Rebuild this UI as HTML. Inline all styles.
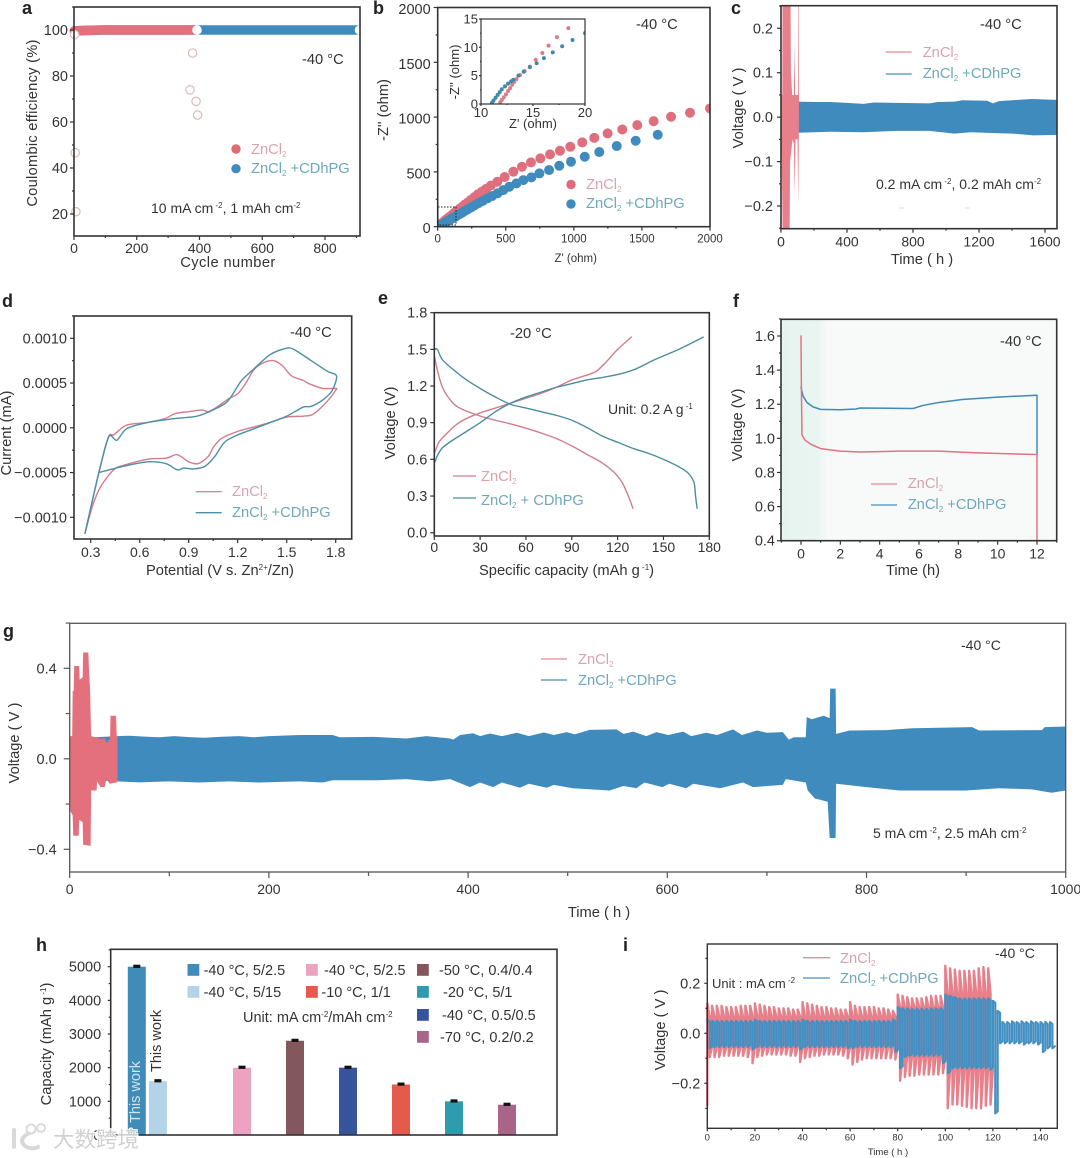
<!DOCTYPE html>
<html lang="en">
<head>
<meta charset="utf-8">
<title>Zinc cell electrochemical performance figure</title>
<style>
html,body{margin:0;padding:0;background:#fff;}
svg{display:block;font-family:"Liberation Sans","Noto Sans CJK SC",sans-serif;}
text{fill:#333;}
.p{font-weight:bold;font-size:18px;fill:#222;}
.r{fill:#d9a3ad;}
.b{fill:#6ea8ba;}
.t{font-size:14.7px;}
</style>
</head>
<body>
<svg id="fig" width="1080" height="1158" viewBox="0 0 1080 1158" xmlns="http://www.w3.org/2000/svg">
<rect width="1080" height="1158" fill="#fff"/>
<defs>
<clipPath id="cb"><rect x="437.7" y="7.5" width="272.3" height="219.2"/></clipPath>
<clipPath id="cc"><rect x="781" y="5.7" width="276" height="223"/></clipPath>
<clipPath id="cbi"><rect x="481" y="19" width="104" height="85"/></clipPath>
<linearGradient id="fband" x1="0" x2="1" y1="0" y2="0"><stop offset="0" stop-color="#e6f4ef"/><stop offset=".8" stop-color="#e9f5f1"/><stop offset="1" stop-color="#f6f9f8"/></linearGradient>
</defs>

<g id="panel-a">
<g id="a-marks"></g>
<g id="a-axes"></g>
<text class="p" x="22" y="14">a</text>
<text class="t" transform="translate(37,123) rotate(-90)" text-anchor="middle" style="letter-spacing:.25px">Coulombic efficiency (%)</text>
<text class="t" x="228" y="267" text-anchor="middle" style="letter-spacing:.4px">Cycle number</text>
<text class="t" x="302" y="64">-40 °C</text>
<circle cx="236" cy="149" r="4.7" fill="#e06a78"/>
<circle cx="236" cy="168.7" r="4.7" fill="#408bbd"/>
<text class="t r" x="251" y="154">ZnCl<tspan dy="3" font-size="8">2</tspan></text>
<text class="t b" x="251" y="173">ZnCl<tspan dy="3" font-size="8">2</tspan><tspan dy="-3"> +CDhPG</tspan></text>
<text class="t" x="151" y="213" style="font-size:14px">10 mA cm<tspan dy="-5" font-size="8"> -2</tspan><tspan dy="5">, 1 mAh cm</tspan><tspan dy="-5" font-size="8">-2</tspan></text>
</g>

<g id="panel-b">
<g id="b-marks" clip-path="url(#cb)"></g>
<g id="b-axes"></g>
<rect x="438" y="207" width="18" height="18" fill="none" stroke="#222" stroke-width="1" stroke-dasharray="1.5 1.5"/>
<g id="bi-marks" clip-path="url(#cbi)"></g>
<g id="bi-axes"></g>
<text class="p" x="373" y="14">b</text>
<text class="t" transform="translate(388,110) rotate(-90)" text-anchor="middle">-Z'' (ohm)</text>
<text x="575.7" y="262" font-size="11.5" text-anchor="middle">Z' (ohm)</text>
<text x="533" y="128" font-size="13" text-anchor="middle">Z' (ohm)</text>
<text transform="translate(459,72) rotate(-90)" font-size="13" text-anchor="middle">-Z'' (ohm)</text>
<text class="t" x="636" y="29">-40 °C</text>
<circle cx="571" cy="184.5" r="4.7" fill="#e06a78"/>
<circle cx="571" cy="204" r="4.7" fill="#408bbd"/>
<text class="t r" x="586" y="189">ZnCl<tspan dy="3" font-size="8">2</tspan></text>
<text class="t b" x="586" y="208">ZnCl<tspan dy="3" font-size="8">2</tspan><tspan dy="-3"> +CDhPG</tspan></text>
</g>

<g id="panel-c">
<g id="c-marks" clip-path="url(#cc)"></g>
<g id="c-axes"></g>
<text class="p" x="731" y="14">c</text>
<text class="t" transform="translate(743,108) rotate(-90)" text-anchor="middle">Voltage ( V )</text>
<text class="t" x="922" y="264" text-anchor="middle">Time ( h )</text>
<text class="t" x="980" y="29">-40 °C</text>
<line x1="885.7" x2="911.7" y1="52" y2="52" stroke="#e58a96" stroke-width="1.3"/>
<line x1="885.7" x2="911.7" y1="74" y2="74" stroke="#4a8fb0" stroke-width="1.3"/>
<text class="t r" x="922.7" y="57">ZnCl<tspan dy="3" font-size="8">2</tspan></text>
<text class="t b" x="922.7" y="78">ZnCl<tspan dy="3" font-size="8">2</tspan><tspan dy="-3"> +CDhPG</tspan></text>
<text x="876" y="189" font-size="14">0.2 mA cm<tspan dy="-5" font-size="8"> -2</tspan><tspan dy="5">, 0.2 mAh cm</tspan><tspan dy="-5" font-size="8">-2</tspan></text>
<line x1="899" x2="904" y1="208" y2="208" stroke="#ddd" stroke-width="1"/>
<line x1="965" x2="970" y1="208" y2="208" stroke="#ddd" stroke-width="1"/>
</g>

<g id="panel-d">
<g id="d-marks"></g>
<g id="d-axes"></g>
<text class="p" x="2" y="307">d</text>
<text class="t" transform="translate(11,433) rotate(-90)" text-anchor="middle">Current (mA)</text>
<text class="t" x="146" y="575">Potential (V s. Zn<tspan dy="-5" font-size="8">2+</tspan><tspan dy="5">/Zn)</tspan></text>
<text class="t" x="290" y="337">-40 °C</text>
<line x1="195.7" x2="221.7" y1="491.7" y2="491.7" stroke="#d98a97" stroke-width="1.3"/>
<line x1="195.7" x2="221.7" y1="512.7" y2="512.7" stroke="#4a8fa8" stroke-width="1.3"/>
<text class="t r" x="232" y="496">ZnCl<tspan dy="3" font-size="8">2</tspan></text>
<text class="t b" x="232" y="517">ZnCl<tspan dy="3" font-size="8">2</tspan><tspan dy="-3"> +CDhPG</tspan></text>
</g>

<g id="panel-e">
<g id="e-marks"></g>
<g id="e-axes"></g>
<text class="p" x="378" y="304">e</text>
<text class="t" transform="translate(395,423) rotate(-90)" text-anchor="middle">Voltage (V)</text>
<text class="t" x="479" y="575">Specific capacity (mAh g<tspan dy="-5" font-size="8"> -1</tspan><tspan dy="5">)</tspan></text>
<text class="t" x="510" y="338">-20 °C</text>
<text x="608" y="414" font-size="14">Unit: 0.2 A g<tspan dy="-5" font-size="8"> -1</tspan></text>
<line x1="453" x2="476" y1="476" y2="476" stroke="#cf7f8b" stroke-width="1.3"/>
<line x1="453" x2="476" y1="498" y2="498" stroke="#4b8d9f" stroke-width="1.3"/>
<text class="t r" x="481" y="481">ZnCl<tspan dy="3" font-size="8">2</tspan></text>
<text class="t b" x="481" y="505">ZnCl<tspan dy="3" font-size="8">2</tspan><tspan dy="-3"> + CDhPG</tspan></text>
</g>

<g id="panel-f">
<rect x="781" y="319.3" width="276" height="221.4" fill="#f7faf9"/>
<rect x="782" y="320" width="45" height="220" fill="url(#fband)"/>
<g id="f-marks"></g>
<g id="f-axes"></g>
<text class="p" x="733" y="307">f</text>
<text class="t" transform="translate(742,425) rotate(-90)" text-anchor="middle">Voltage (V)</text>
<text class="t" x="913" y="575" text-anchor="middle">Time (h)</text>
<text class="t" x="1000" y="346">-40 °C</text>
<line x1="871" x2="897" y1="484" y2="484" stroke="#e58a96" stroke-width="1.3"/>
<line x1="871" x2="897" y1="505" y2="505" stroke="#4a8fb0" stroke-width="1.3"/>
<text class="t r" x="907.7" y="488">ZnCl<tspan dy="3" font-size="8">2</tspan></text>
<text class="t b" x="907.7" y="509">ZnCl<tspan dy="3" font-size="8">2</tspan><tspan dy="-3"> +CDhPG</tspan></text>
</g>

<g id="panel-g">
<g id="g-marks"></g>
<g id="g-axes"></g>
<text class="p" x="3" y="637">g</text>
<text class="t" transform="translate(19,743) rotate(-90)" text-anchor="middle">Voltage ( V )</text>
<text class="t" x="599" y="917" text-anchor="middle">Time ( h )</text>
<text x="961" y="650" font-size="14">-40 °C</text>
<text x="873" y="838" font-size="14">5 mA cm<tspan dy="-5" font-size="8"> -2</tspan><tspan dy="5">, 2.5 mAh cm</tspan><tspan dy="-5" font-size="8">-2</tspan></text>
<line x1="541" x2="567" y1="659" y2="659" stroke="#e58a96" stroke-width="1.3"/>
<line x1="541" x2="567" y1="680" y2="680" stroke="#4a8fb0" stroke-width="1.3"/>
<text class="t r" x="578" y="664">ZnCl<tspan dy="3" font-size="8">2</tspan></text>
<text class="t b" x="578" y="685">ZnCl<tspan dy="3" font-size="8">2</tspan><tspan dy="-3"> +CDhPG</tspan></text>
</g>

<g id="panel-h">
<g id="h-marks"></g>
<g id="h-axes"></g>
<text class="p" x="36" y="951">h</text>
<text class="t" transform="translate(51,1044) rotate(-90)" text-anchor="middle">Capacity (mAh g<tspan dy="-5" font-size="8"> -1</tspan><tspan dy="5">)</tspan></text>
<text transform="translate(140,1092) rotate(-90)" text-anchor="middle" font-size="14.5" style="fill:#cfe3ee">This work</text>
<text transform="translate(161,1041) rotate(-90)" text-anchor="middle" font-size="14.5">This work</text>
<g id="h-legend"></g>
<text x="243" y="1022" font-size="14.5">Unit: mA cm<tspan dy="-5" font-size="8">-2</tspan><tspan dy="5">/mAh cm</tspan><tspan dy="-5" font-size="8">-2</tspan></text>
</g>

<g id="panel-i">
<g id="i-marks"></g>
<g id="i-axes"></g>
<text class="p" x="623" y="951">i</text>
<text class="t" transform="translate(665,1030) rotate(-90)" text-anchor="middle">Voltage ( V )</text>
<text x="888" y="1155" font-size="9.5" text-anchor="middle">Time ( h )</text>
<text x="995" y="958" font-size="14">-40 °C</text>
<text x="712" y="988" font-size="13">Unit : mA cm<tspan dy="-5" font-size="8"> -2</tspan></text>
<line x1="803" x2="830" y1="957.7" y2="957.7" stroke="#e58a96" stroke-width="1.3"/>
<line x1="803" x2="830" y1="978" y2="978" stroke="#4a8fb0" stroke-width="1.3"/>
<text class="t r" x="840" y="963">ZnCl<tspan dy="3" font-size="8">2</tspan></text>
<text class="t b" x="840" y="983">ZnCl<tspan dy="3" font-size="8">2</tspan><tspan dy="-3"> +CDhPG</tspan></text>
</g>

<g id="watermark" opacity=".95">
<path d="M14 1130 L14 1147 M34 1131 C22 1135 20 1141 24 1145 C28 1149 34 1149 38 1147" fill="none" stroke="#d6d6d6" stroke-width="4" stroke-linecap="round"/>
<circle cx="31" cy="1129" r="4.5" fill="#fff" stroke="#d6d6d6" stroke-width="1.8"/>
<circle cx="41" cy="1128" r="4" fill="#fff" stroke="#d6d6d6" stroke-width="1.8"/>
<text x="53" y="1147" font-size="21.5" style="fill:#cfcfcf;stroke:#fff;stroke-width:2;paint-order:stroke;font-family:'Liberation Sans','Noto Sans CJK SC',sans-serif">大数跨境</text>
</g>
</svg>

<script>
/* ---------- panel a data ---------- */
const aXTicks = ['0','200','400','600','800'];
const aYTicks = ['20','40','60','80','100'];
const aRedCycles = [1,40,80,120,160,200,240,280,320,360,385];
const aRedCE = [99.6,99.9,100,100,100,100,100,100,100,100,100];
const aBlueCycles = [1,100,200,300,400,500,600,700,800,910];
const aBlueCE = [99.6,100,100,100,100,100,100,100,100,100];
const aOpenCycles = [370,378,389,394,4,6,392,910,2];
const aOpenCE = [74,90,69,63,46.6,21,100,100,98];

/* ---------- panel b data ---------- */
const bTicks = ['0','500','1000','1500','2000'];
const bRedZ = [2000,1853,1714,1586,1466,1356,1248,1150,1062,974,898,825,754,685,619,556,492,438,390,355,325,295,270,245,222,200,180,160,142,125,110,95,80,68,56,46,36,28,20,14,12];
const bRedZi = [1079,1040,1003,963,927,887,851,811,769,729,693,660,623,587,547,502,453,410,375,345,320,295,270,245,222,202,182,163,145,128,112,97,83,70,58,47,37,27,18,10,5];
const bBlueZ = [1616,1454,1315,1187,1080,979,893,818,747,688,629,578,526,482,440,400,365,330,300,270,245,220,198,178,158,140,122,106,92,78,65,53,42,32,23,16,11];
const bBlueZi = [839,784,736,681,638,593,556,517,486,450,425,395,365,334,305,280,258,235,215,195,175,158,142,127,113,100,87,75,64,54,45,36,28,20,13,7,3];
const biXTicks = ['10','15','20'];
const biYTicks = ['0','5','10','15'];
const biRedZ = [18.4,17.3,16.5,15.9,15.26,14.7,14.2,13.75,13.4,13.2,13,12.8,12.6,12.4,12.2,12,11.85];
const biRedZi = [13.4,11.8,10.3,9,7.8,6.6,5.8,5.1,4.4,3.9,3.4,2.8,2.3,1.7,1.2,.7,.3];
const biBlueZ = [20,18.8,17.8,16.9,16.05,15.35,14.7,14.1,13.6,13.1,12.9,12.6,12.3,12,11.8,11.6,11.4,11.2,11.05];
const biBlueZi = [12.5,11.3,10.2,9.1,8.1,7.2,6.5,5.7,5,4.25,4,3.6,3.1,2.6,2.1,1.6,1.1,.6,.2];

/* ---------- panel c data ---------- */
const cXTicks = ['0','400','800','1200','1600'];
const cYTicks = ['\u22120.2','\u22120.1','0.0','0.1','0.2'];
const cBlueUpT = [100,200,300,400,500,560,700,900,950,1050,1100,1250,1285,1320,1400,1520,1672];
const cBlueUpV = [.035,.034,.034,.032,.03,.033,.032,.031,.034,.035,.038,.037,.031,.036,.038,.041,.039];
const cBlueLowT = [100,300,500,700,900,1050,1150,1300,1400,1530,1672];
const cBlueLowV = [-.035,-.033,-.034,-.031,-.031,-.037,-.034,-.036,-.037,-.041,-.04];
const cRedUpT = [0,8,9,58,60,68,78,82,86,104,105,108,109];
const cRedUpV = [.05,.05,.27,.27,.1,.05,.05,.165,.05,.05,.27,.27,.04];
const cRedLowT = [0,5,10,52,55,70,78,83,88,100,105,108];
const cRedLowV = [-.05,-.1,-.27,-.27,-.1,-.05,-.06,-.175,-.05,-.05,-.2,-.04];

/* ---------- panel d data ---------- */
const dXTicks = ['0.3','0.6','0.9','1.2','1.5','1.8'];
const dYTicks = ['\u22120.0010','\u22120.0005','0.0000','0.0005','0.0010'];
const dRedE = [.265,.35,.41,.44,.52,.65,.75,.82,.9,.98,1.02,1.08,1.14,1.2,1.25,1.3,1.36,1.42,1.47,1.53,1.6,1.64,1.72,1.8,1.8,1.74,1.66,1.6,1.5,1.4,1.3,1.2,1.1,1.05,1.02,.96,.9,.83,.76,.65,.5,.44,.36,.31,.265];
const dRedI = [-.00118,-.0005,-.0001,-.00008,.00003,.00006,.0001,.00016,.00018,.0002,.00018,.00024,.00032,.00038,.0005,.00065,.00073,.00075,.0007,.00058,.00053,.00049,.00044,.00044,.00042,.00028,.00015,.00013,.00012,.00006,.00001,-.00004,-.00012,-.00022,-.00032,-.0004,-.00038,-.0003,-.00034,-.00035,-.00042,-.00047,-.00066,-.00088,-.00118];
const dBlueE = [.265,.35,.41,.46,.52,.65,.8,.95,1.05,1.14,1.22,1.3,1.4,1.5,1.55,1.65,1.75,1.805,1.78,1.72,1.65,1.6,1.5,1.4,1.3,1.2,1.12,1.06,1,.93,.87,.83,.76,.65,.5,.35];
const dBlueI = [-.00118,-.0005,-.0001,-.00014,-.00001,.00006,.0001,.00013,.0002,.0003,.00052,.00066,.00082,.00089,.00087,.00075,.00063,.00058,.00042,.00031,.00024,.00023,.00013,.00006,-.00001,-.00008,-.00016,-.00032,-.00043,-.00046,-.00045,-.00047,-.0004,-.00038,-.00043,-.0005];

/* ---------- panel e data ---------- */
const eXTicks = ['0','30','60','90','120','150','180'];
const eYTicks = ['0.0','0.3','0.6','0.9','1.2','1.5','1.8'];
const eRedChargeQ = [.5,3,8,15,22,30,40,50,60,70,80,90,100,106,112,120,129];
const eRedChargeV = [.66,.74,.81,.89,.94,.98,1.02,1.06,1.1,1.14,1.19,1.25,1.29,1.32,1.39,1.5,1.6];
const eRedDisQ = [0,2,5,9,14,20,30,40,50,60,70,80,90,100,110,118,123,127,130];
const eRedDisV = [1.45,1.33,1.2,1.11,1.04,1,.955,.92,.89,.855,.815,.77,.71,.64,.57,.49,.41,.3,.2];
const eBlueChargeQ = [.5,2,5,10,20,30,40,50,60,70,80,90,100,110,122,132,145,160,176];
const eBlueChargeV = [.58,.63,.69,.74,.82,.9,.99,1.06,1.11,1.15,1.19,1.22,1.25,1.27,1.3,1.34,1.42,1.5,1.6];
const eBlueDisQ = [.5,2,5,10,20,30,40,50,60,70,80,90,100,110,120,130,140,150,160,166,170,171,172];
const eBlueDisV = [1.5,1.5,1.42,1.36,1.26,1.18,1.11,1.05,1.02,.99,.96,.92,.86,.79,.74,.69,.65,.6,.54,.49,.41,.3,.2];

/* ---------- panel f data ---------- */
const fXTicks = ['0','2','4','6','8','10','12'];
const fYTicks = ['0.4','0.6','0.8','1.0','1.2','1.4','1.6'];
const fRedT = [0,.02,.05,.2,.5,1,2,3,5,7,9,12,12];
const fRedV = [1.6,1.3,1.02,.99,.965,.94,.925,.92,.925,.925,.915,.905,.4];
const fBlueT = [0,.1,.3,.6,1,2,2.8,3,5,5.7,6.2,7,8.2,10,12,12];
const fBlueV = [1.3,1.25,1.21,1.185,1.17,1.168,1.172,1.178,1.176,1.175,1.193,1.21,1.228,1.242,1.253,.905];

/* ---------- panel g data ---------- */
const gXTicks = ['0','200','400','600','800','1000'];
const gYTicks = ['\u22120.4','0.0','0.4'];
const gBlueUpT = [0,48,60,75,90,105,120,135,150,170,185,200,231,264,271,305,338,358,382,385,392,405,412,422,434,449,461,476,486,499,507,522,549,556,566,579,589,601,616,624,639,650,666,675,690,700,716,722,727,739,740,745,757,763,763.5,769,769.5,783,820,846,906,913,976,979,1000];
const gBlueUpV = [.09,.1,.102,.098,.095,.1,.096,.093,.097,.1,.095,.1,.105,.105,.095,.097,.09,.1,.09,.085,.105,.113,.1,.112,.1,.115,.1,.116,.105,.118,.108,.128,.13,.11,.12,.1,.118,.105,.12,.1,.115,.105,.13,.105,.125,.115,.118,.085,.095,.095,.185,.175,.19,.18,.31,.31,.11,.125,.127,.135,.14,.125,.127,.14,.143];
const gBlueLowT = [0,48,70,100,130,160,190,231,254,264,308,338,362,382,402,412,425,434,452,461,479,486,505,542,556,569,577,595,602,619,626,653,676,686,716,719,739,741,748,761,763,769,769.5,800,833,900,933,966,986,1000];
const gBlueLowV = [-.09,-.1,-.104,-.1,-.105,-.1,-.105,-.1,-.105,-.095,-.095,-.09,-.1,-.09,-.125,-.105,-.125,-.105,-.128,-.11,-.128,-.115,-.13,-.14,-.12,-.13,-.105,-.125,-.11,-.13,-.11,-.13,-.105,-.125,-.115,-.09,-.105,-.14,-.175,-.19,-.35,-.35,-.11,-.125,-.14,-.14,-.13,-.135,-.15,-.14];
const gRedUpT = [0,2.5,3,4,4.5,9.5,10,13,13.5,18.7,19.2,20.5,21.5,30.4,35.5,37,40.5,41,46.5,47.2,48];
const gRedUpV = [.1,.1,.3,.3,.41,.41,.35,.36,.47,.47,.41,.3,.1,.09,.09,.07,.09,.19,.19,.1,.1];
const gRedLowT = [0,.5,3,3.5,9,9.5,13,13.5,21,21.5,27,27.5,31,35,37,40,47,48];
const gRedLowV = [-.1,-.23,-.25,-.34,-.34,-.27,-.28,-.38,-.385,-.14,-.14,-.1,-.125,-.125,-.09,-.11,-.105,-.1];

/* ---------- panel h data ---------- */
const hCategories = ['-40 °C, 5/2.5 this work','-40 °C, 5/15 this work','-40 °C, 5/2.5','-50 °C, 0.4/0.4','-40 °C, 0.5/0.5','-10 °C, 1/1','-20 °C, 5/1','-70 °C, 0.2/0.2'];
const hCapacity = [5000,1600,2000,2800,2000,1500,1000,900];
const hColors = ['#3f8cb8','#b3d4e8','#eba3c1','#84575c','#35549c','#e45a4c','#2f9bae','#a96488'];
const hYTicks = ['0','1000','2000','3000','4000','5000'];

/* ---------- panel i data ---------- */
const iXTicks = ['0','20','40','60','80','100','120','140'];
const iYTicks = ['\u22120.2','0.0','0.2'];
const iRedUp = [.12,.11,.11,.11,.105,.105,.105,.11,.11,.11,.12,.115,.11,.105,.105,.1,.1,.1,.095,.095,.125,.12,.115,.11,.105,.105,.1,.1,.095,.095,.125,.11,.105,.105,.105,.105,.1,.1,.095,.09,.155,.15,.145,.14,.14,.14,.145,.15,.15,.15,.27,.26,.255,.25,.25,.25,.25,.26,.265,.26];
const iRedLow = [-.095,-.095,-.095,-.09,-.09,-.09,-.09,-.09,-.095,-.12,-.095,-.09,-.085,-.085,-.085,-.085,-.085,-.09,-.09,-.115,-.1,-.095,-.09,-.09,-.085,-.085,-.085,-.085,-.09,-.1,-.125,-.115,-.105,-.1,-.1,-.1,-.1,-.1,-.1,-.105,-.19,-.175,-.17,-.17,-.165,-.165,-.165,-.165,-.165,-.16,-.3,-.285,-.285,-.29,-.295,-.3,-.3,-.3,-.29,-.285];
const iRedBaseUp = [.068,.068,.068,.068,.105,.16];
const iRedBaseLow = [-.055,-.055,-.055,-.055,-.095,-.145];
const iBlueUp = [.055,.05,.05,.05,.05,.05,.05,.05,.05,.05,.055,.05,.05,.05,.05,.05,.05,.05,.05,.05,.055,.05,.05,.05,.05,.05,.05,.05,.05,.05,.055,.05,.05,.05,.05,.05,.05,.05,.05,.055,.105,.1,.1,.098,.098,.098,.098,.1,.1,.1,.155,.15,.145,.14,.14,.14,.14,.14,.14,.14,.13,.09,.045,.045,.048,.045,.048,.045,.048,.045,.045,.045,.045];
const iBlueLow = [-.06,-.055,-.055,-.055,-.055,-.055,-.055,-.055,-.055,-.065,-.055,-.055,-.055,-.055,-.055,-.055,-.055,-.055,-.055,-.065,-.055,-.055,-.055,-.055,-.055,-.055,-.055,-.055,-.055,-.06,-.06,-.055,-.055,-.055,-.055,-.055,-.055,-.055,-.055,-.075,-.14,-.095,-.09,-.09,-.09,-.09,-.09,-.09,-.09,-.12,-.16,-.14,-.14,-.14,-.14,-.14,-.14,-.14,-.14,-.145,-.32,-.04,-.04,-.04,-.04,-.04,-.045,-.04,-.04,-.045,-.075,-.06,-.06];

/* ---------- helpers ---------- */
const NS = 'http://www.w3.org/2000/svg';
function scale(d0, d1, r0, r1) { return v => r0 + (v - d0) * (r1 - r0) / (d1 - d0); }
function num(s) { return parseFloat(String(s).replace('\u2212', '-')); }
function el(parent, tag, name) {
  const e = document.createElementNS(NS, tag);
  
  
  document.getElementById(parent).appendChild(e);
  return e;
}
function line(parent, name, xs, ys, sx, sy, color, w) {
  const e = el(parent, 'polyline', name);
  e.setAttribute('points', xs.map((x, i) => sx(x).toFixed(2) + ',' + sy(ys[i]).toFixed(2)).join(' '));
  e.setAttribute('fill', 'none');
  e.setAttribute('stroke', color);
  e.setAttribute('stroke-width', w);
  e.setAttribute('stroke-linejoin', 'round');
  e.setAttribute('stroke-linecap', 'round');
  return e;
}
function curve(parent, name, xs, ys, sx, sy, color, w) {
  const p = xs.map((x, i) => [sx(x), sy(ys[i])]);
  const k = 1 / 7;
  let d = 'M' + p[0][0].toFixed(2) + ' ' + p[0][1].toFixed(2);
  for (let i = 0; i < p.length - 1; i++) {
    const a = p[Math.max(i - 1, 0)], b = p[i], c = p[i + 1], e2 = p[Math.min(i + 2, p.length - 1)];
    d += ' C' + (b[0] + (c[0] - a[0]) * k).toFixed(2) + ' ' + (b[1] + (c[1] - a[1]) * k).toFixed(2) +
         ' ' + (c[0] - (e2[0] - b[0]) * k).toFixed(2) + ' ' + (c[1] - (e2[1] - b[1]) * k).toFixed(2) +
         ' ' + c[0].toFixed(2) + ' ' + c[1].toFixed(2);
  }
  const e = el(parent, 'path', name);
  e.setAttribute('d', d);
  e.setAttribute('fill', 'none');
  e.setAttribute('stroke', color);
  e.setAttribute('stroke-width', w);
  e.setAttribute('stroke-linejoin', 'round');
  e.setAttribute('stroke-linecap', 'round');
  return e;
}
function area(parent, name, tu, vu, tl, vl, sx, sy, color) {
  const e = el(parent, 'polygon', name);
  const top = tu.map((t, i) => sx(t).toFixed(2) + ',' + sy(vu[i]).toFixed(2));
  const bot = tl.map((t, i) => sx(t).toFixed(2) + ',' + sy(vl[i]).toFixed(2)).reverse();
  e.setAttribute('points', top.concat(bot).join(' '));
  e.setAttribute('fill', color);
  return e;
}
function dots(parent, name, xs, ys, sx, sy, r, color) {
  xs.forEach((x, i) => {
    const c = el(parent, 'circle', name);
    c.setAttribute('cx', sx(x));
    c.setAttribute('cy', sy(ys[i]));
    c.setAttribute('r', r);
    c.setAttribute('fill', color);
  });
}
function tick(parent, name, x1, y1, x2, y2, color) {
  const t = el(parent, 'line', name);
  t.setAttribute('x1', x1); t.setAttribute('y1', y1);
  t.setAttribute('x2', x2); t.setAttribute('y2', y2);
  t.setAttribute('stroke', color);
  t.setAttribute('stroke-width', 1.2);
}
function label(parent, name, x, y, s, anchor, size) {
  const t = el(parent, 'text', name);
  t.setAttribute('x', x); t.setAttribute('y', y);
  t.setAttribute('text-anchor', anchor);
  t.setAttribute('font-size', size);
  t.textContent = s;
}
function axes(id, box, sx, sy, xTicks, yTicks, o) {
  const color = o.color || '#333';
  const f = el(id, 'rect', 'frame');
  f.setAttribute('x', box.l); f.setAttribute('y', box.t);
  f.setAttribute('width', box.r - box.l); f.setAttribute('height', box.b - box.t);
  f.setAttribute('fill', 'none'); f.setAttribute('stroke', color); f.setAttribute('stroke-width', o.sw || 1.6);
  const maj = o.maj || 4, min = o.min || 2;
  const xv = xTicks.map(num), yv = yTicks.map(num);
  xTicks.forEach((s, i) => {
    tick(id, 'x-tick', sx(xv[i]), box.b, sx(xv[i]), box.b + maj, color);
    label(id, 'x-tick-label', sx(xv[i]), box.b + o.xOff, s, 'middle', o.xSize);
  });
  yTicks.forEach((s, i) => {
    tick(id, 'y-tick', box.l, sy(yv[i]), box.l - maj, sy(yv[i]), color);
    label(id, 'y-tick-label', box.l - o.yOff, sy(yv[i]) + o.yDy, s, 'end', o.ySize);
  });
  function minors(v, s, a, b, draw) {
    if (v.length < 2) return;
    const st = v[1] - v[0];
    for (let m = v[0] - st / 2; ; m += st) {
      const p = s(m);
      const inside = p >= Math.min(a, b) - .5 && p <= Math.max(a, b) + .5;
      if (!inside && m > v[v.length - 1]) break;
      if (inside) draw(p);
    }
  }
  if (!o.noXMinor) minors(xv, sx, box.l, box.r, p => tick(id, 'x-minor-tick', p, box.b, p, box.b + min, color));
  if (!o.noYMinor) minors(yv, sy, box.t, box.b, p => tick(id, 'y-minor-tick', box.l, p, box.l - min, p, color));
}

const RED = '#e4707d', BLUE = '#408bbd';

/* ---------- panel a ---------- */
(function () {
  const box = { l: 74, r: 360, t: 7, b: 236 };
  const sx = scale(0, 800, 74, 325), sy = scale(20, 100, 214, 30);
  line('a-marks', 'a-series-cdhpg', aBlueCycles, aBlueCE, sx, sy, BLUE, 9.5);
  line('a-marks', 'a-series-zncl2', aRedCycles, aRedCE, sx, sy, RED, 9.5);
  aOpenCycles.forEach((c, i) => {
    const p = el('a-marks', 'circle', 'a-open-point');
    p.setAttribute('cx', sx(c)); p.setAttribute('cy', sy(aOpenCE[i])); p.setAttribute('r', 4.2);
    p.setAttribute('fill', '#fff'); p.setAttribute('stroke', i > 5 && i < 8 ? '#fff' : '#dcbcbc'); p.setAttribute('stroke-width', 1.2);
  });
  axes('a-axes', box, sx, sy, aXTicks, aYTicks, { xOff: 17, xSize: 14, yOff: 6, yDy: 5, ySize: 14.5 });
})();

/* ---------- panel b ---------- */
(function () {
  const box = { l: 437.7, r: 710, t: 7.5, b: 226.7 };
  const sx = scale(0, 2000, 437.7, 710), sy = scale(0, 2000, 226.7, 7.5);
  dots('b-marks', 'b-point-zncl2', bRedZ, bRedZi, sx, sy, 5, '#df6f7d');
  dots('b-marks', 'b-point-cdhpg', bBlueZ, bBlueZi, sx, sy, 5, BLUE);
  axes('b-axes', box, sx, sy, bTicks, bTicks, { xOff: 16, xSize: 11.5, yOff: 7, yDy: 6.5, ySize: 14.5 });
  const ibox = { l: 481, r: 585, t: 19, b: 104 };
  const ix = scale(10, 20, 481, 585), iy = scale(0, 15, 104, 19);
  dots('bi-marks', 'b-inset-point-zncl2', biRedZ, biRedZi, ix, iy, 2, '#df7a86');
  dots('bi-marks', 'b-inset-point-cdhpg', biBlueZ, biBlueZi, ix, iy, 2, '#3f8aa8');
  axes('bi-axes', ibox, ix, iy, biXTicks, biYTicks, { xOff: 13, xSize: 13, yOff: 3, yDy: 4.5, ySize: 13, maj: 2, min: 1, sw: 1.2 });
})();

/* ---------- panel c ---------- */
(function () {
  const box = { l: 781, r: 1057, t: 5.7, b: 228.7 };
  const sx = scale(0, 1600, 781, 1045), sy = scale(-.2, .2, 206, 28.3);
  area('c-marks', 'c-series-cdhpg-envelope', cBlueUpT, cBlueUpV, cBlueLowT, cBlueLowV, sx, sy, BLUE);
  area('c-marks', 'c-series-zncl2-envelope', cRedUpT, cRedUpV, cRedLowT, cRedLowV, sx, sy, '#e8808c');
  axes('c-axes', box, sx, sy, cXTicks, cYTicks, { xOff: 18, xSize: 14, yOff: 8, yDy: 5, ySize: 14.5 });
})();

/* ---------- panel d ---------- */
(function () {
  const box = { l: 74, r: 351.7, t: 316, b: 539 };
  const sx = scale(.3, 1.8, 90.7, 335.7), sy = scale(-.001, .001, 517.3, 338.3);
  curve('d-marks', 'd-series-zncl2', dRedE, dRedI, sx, sy, '#d57c8b', 1.4);
  curve('d-marks', 'd-series-cdhpg', dBlueE, dBlueI, sx, sy, '#4a8fa8', 1.4);
  axes('d-axes', box, sx, sy, dXTicks, dYTicks, { xOff: 18, xSize: 14, yOff: 7, yDy: 5, ySize: 14.5 });
})();

/* ---------- panel e ---------- */
(function () {
  const box = { l: 434.3, r: 709.3, t: 312.7, b: 536 };
  const sx = scale(0, 180, 434.3, 709.3), sy = scale(0, 1.8, 532.7, 312.7);
  curve('e-marks', 'e-zncl2-charge', eRedChargeQ, eRedChargeV, sx, sy, '#cf7f8b', 1.4);
  curve('e-marks', 'e-zncl2-discharge', eRedDisQ, eRedDisV, sx, sy, '#cf7f8b', 1.4);
  curve('e-marks', 'e-cdhpg-charge', eBlueChargeQ, eBlueChargeV, sx, sy, '#4b8d9f', 1.4);
  curve('e-marks', 'e-cdhpg-discharge', eBlueDisQ, eBlueDisV, sx, sy, '#4b8d9f', 1.4);
  axes('e-axes', box, sx, sy, eXTicks, eYTicks, { xOff: 16, xSize: 14, yOff: 7, yDy: 5, ySize: 14.5, noXMinor: true, noYMinor: true });
})();

/* ---------- panel f ---------- */
(function () {
  const box = { l: 781, r: 1056.7, t: 319.3, b: 540.7 };
  const sx = scale(0, 12, 801, 1037), sy = scale(.4, 1.6, 540.7, 336);
  line('f-marks', 'f-series-cdhpg', fBlueT, fBlueV, sx, sy, '#4489b5', 1.5);
  line('f-marks', 'f-series-zncl2', fRedT, fRedV, sx, sy, '#e5727f', 1.5);
  axes('f-axes', box, sx, sy, fXTicks, fYTicks, { xOff: 18, xSize: 14, yOff: 6, yDy: 5, ySize: 14.5 });
})();

/* ---------- panel g ---------- */
(function () {
  const box = { l: 69.7, r: 1065.7, t: 623.3, b: 872 };
  const sx = scale(0, 1000, 69.7, 1065.7), sy = scale(-.4, .4, 849.3, 668.3);
  area('g-marks', 'g-series-cdhpg-envelope', gBlueUpT, gBlueUpV, gBlueLowT, gBlueLowV, sx, sy, BLUE);
  area('g-marks', 'g-series-zncl2-envelope', gRedUpT, gRedUpV, gRedLowT, gRedLowV, sx, sy, RED);
  axes('g-axes', box, sx, sy, gXTicks, gYTicks, { xOff: 22, xSize: 14, yOff: 13, yDy: 5, ySize: 14.5, maj: 6, min: 4, color: '#555', sw: 1.3 });
})();

/* ---------- panel h ---------- */
(function () {
  const box = { l: 110.7, r: 557, t: 949.3, b: 1135 };
  const sy = scale(0, 5000, 1135, 966.7);
  const hX = i => i < 2 ? 136.8 + 21.1 * i : 242 + 53 * (i - 2);
  hCapacity.forEach((v, i) => {
    const b = el('h-marks', 'rect', 'h-bar');
    b.setAttribute('x', hX(i) - 9);
    b.setAttribute('y', sy(v));
    b.setAttribute('width', 18);
    b.setAttribute('height', sy(0) - sy(v));
    b.setAttribute('fill', hColors[i]);
    const e = el('h-marks', 'rect', 'h-error-bar');
    e.setAttribute('x', hX(i) - 3.5);
    e.setAttribute('y', sy(v) - 2);
    e.setAttribute('width', 7);
    e.setAttribute('height', 3.2);
    e.setAttribute('fill', '#111');
  });
  axes('h-axes', box, x => x, sy, [], hYTicks, { xOff: 0, xSize: 0, yOff: 9.5, yDy: 5, ySize: 14.5, noXMinor: true, maj: 3 });
  const rows = [
    [0, 187.5, 970, 203.6, '-40 °C, 5/2.5'], [1, 187.5, 992, 203.6, '-40 °C, 5/15'],
    [2, 306, 970, 324, '-40 °C, 5/2.5'], [5, 306, 992, 321.4, '-10 °C, 1/1'],
    [3, 417, 970, 439, '-50 °C, 0.4/0.4'], [6, 417, 992, 443, '-20 °C, 5/1'],
    [4, 417, 1015, 442, '-40 °C, 0.5/0.5'], [7, 417, 1037, 440, '-70 °C, 0.2/0.2']
  ];
  rows.forEach(r => {
    const s = el('h-legend', 'rect', 'h-legend-swatch');
    s.setAttribute('x', r[1]); s.setAttribute('y', r[2] - 6);
    s.setAttribute('width', 11.8); s.setAttribute('height', 11.8);
    s.setAttribute('fill', hColors[r[0]]);
    label('h-legend', 'h-legend-label', r[3], r[2] + 5, r[4], 'start', 14.5);
  });
})();

/* ---------- panel i ---------- */
(function () {
  const box = { l: 707.3, r: 1057.3, t: 944, b: 1128.3 };
  const sx = scale(0, 140, 707.3, 1040.5), sy = scale(-.2, .2, 1083.3, 983.3);
  const rt = [0], rv = [-.29];
  iRedUp.forEach((u, i) => {
    const s = Math.min(Math.floor(i / 10), 5);
    rt.push(2 * i, 2 * i + 1, 2 * i + 1, 2 * i + 2);
    rv.push(u, iRedBaseUp[s], iRedLow[i], iRedBaseLow[s]);
  });
  line('i-marks', 'i-series-zncl2', rt, rv, sx, sy, '#e8808c', 2.4);
  const bt = [], bv = [];
  iBlueUp.forEach((u, i) => {
    bt.push(2 * i, 2 * i + 1, 2 * i + 1, 2 * i + 2);
    bv.push(u, u - .008, iBlueLow[i], iBlueLow[i] + .008);
  });
  line('i-marks', 'i-series-cdhpg', bt, bv, sx, sy, '#4590c3', 2.2);
  axes('i-axes', box, sx, sy, iXTicks, iYTicks, { xOff: 12, xSize: 9.5, yOff: 7, yDy: 5, ySize: 14.5, maj: 3, min: 2, sw: 1.4 });
})();
</script>
</body>
</html>
